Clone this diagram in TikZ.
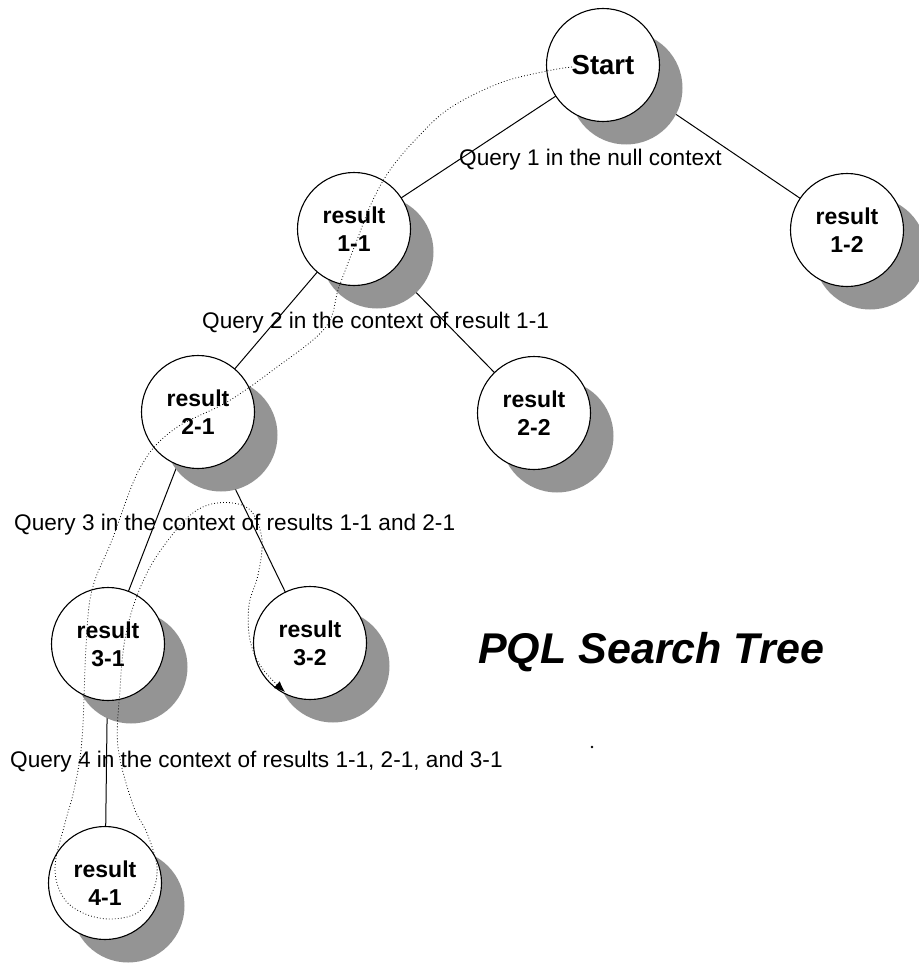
\documentclass[tikz,border=0pt]{standalone}
\usepackage{fontspec}
\setmainfont{Liberation Sans}
\usetikzlibrary{arrows.meta}
\begin{document}
\begin{tikzpicture}[x=1pt,y=-1pt,
  treenode/.style={circle,draw=black,line width=1.1pt,fill=white,minimum size=113pt,inner sep=0pt,
    align=center,font=\bfseries\fontsize{23}{28}\selectfont},
  shadowdisc/.style={fill=black!42},
  branch/.style={line width=1pt},
  querylabel/.style={anchor=base west,inner sep=0pt,font=\fontsize{22.6}{26}\selectfont},
  trail/.style={line width=0.8pt,dash pattern=on 0.8pt off 2.2pt}]
\useasboundingbox (0,0) rectangle (918,963);

% node centres
\coordinate (cS)  at (603,65);
\coordinate (c11) at (354,229);
\coordinate (c12) at (847,230);
\coordinate (c21) at (198,412);
\coordinate (c22) at (534,413);
\coordinate (c31) at (108,644);
\coordinate (c32) at (310,643);
\coordinate (c41) at (105,883);

% branches of the tree
\draw[branch] (cS) -- (c11);
\draw[branch] (cS) -- (c12);
\draw[branch] (c11) -- (c21);
\draw[branch] (c11) -- (c22);
\draw[branch] (c21) -- (c31);
\draw[branch] (c21) -- (c32);
\draw[branch] (c31) -- (c41);

% drop shadows
\foreach \c in {cS,c11,c12,c21,c22,c31,c32,c41}
  \fill[shadowdisc] ([shift={(23,23)}]\c) circle (56.5);

% tree nodes
\node[treenode,font=\bfseries\fontsize{27.5}{30}\selectfont] (start) at (cS) {Start};
\node[treenode] (r11) at (c11) {result\\1-1};
\node[treenode] (r12) at (c12) {result\\1-2};
\node[treenode] (r21) at (c21) {result\\2-1};
\node[treenode] (r22) at (c22) {result\\2-2};
\node[treenode] (r31) at (c31) {result\\3-1};
\node[treenode] (r32) at (c32) {result\\3-2};
\node[treenode] (r41) at (c41) {result\\4-1};

% query labels
\node[querylabel] (q1) at (459,165) {Query 1 in the null context};
\node[querylabel] (q2) at (202,328) {Query 2 in the context of result 1-1};
\node[querylabel] (q3) at (14,530) {Query 3 in the context of results 1-1 and 2-1};
\node[querylabel] (q4) at (10,767) {Query 4 in the context of results 1-1, 2-1, and 3-1};

% title
\node[anchor=base west,inner sep=0pt,font=\bfseries\itshape\fontsize{43}{46}\selectfont] (title) at (478,663) {PQL Search Tree};

% search trail
\draw[trail,-{Latex[length=11pt,width=9pt]}] plot[smooth,tension=0.6] coordinates {
  (572,67) (547,71) (500,83) (450,108) (417,138) (390,170) (372,202) (357,240) (339,287)
  (325,328) (273,370) (227,402) (173,430) (140,468) (112,540) (92,590) (86,647) (82,740)
  (74,790) (65,823) (55,867) (63,897) (83,913) (110,919) (137,913) (152,893) (157,867)
  (147,833) (133,805) (118,747) (120,690) (124,645) (133,607) (147,573) (163,547)
  (187,518) (208,505) (233,503) (252,512) (262,540) (258,575) (249,605) (250,640)
  (262,668) (285,692)};

% stray mark
\fill (592,747) circle (1.4);
\end{tikzpicture}
\end{document}
